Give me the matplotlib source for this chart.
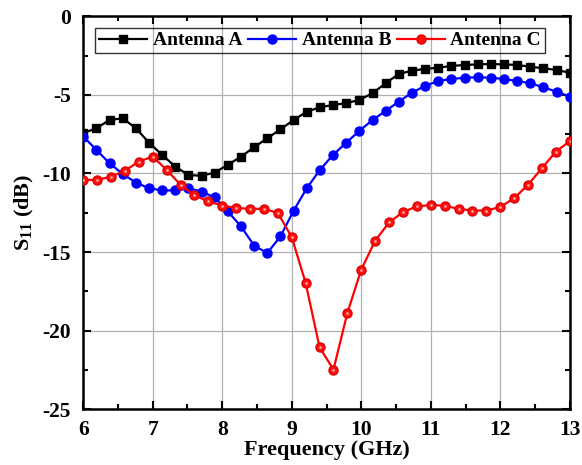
import numpy as np
import matplotlib.pyplot as plt
from matplotlib.ticker import MultipleLocator

plt.rcParams['font.family'] = ['Liberation Serif', 'DejaVu Serif']
plt.rcParams['font.weight'] = 'bold'
plt.rcParams['axes.unicode_minus'] = False
plt.rcParams['mathtext.fontset'] = 'custom'
plt.rcParams['mathtext.rm'] = 'Liberation Serif:bold'
plt.rcParams['mathtext.it'] = 'Liberation Serif:bold'

# frequency samples (GHz)
freq_ab = np.linspace(6, 13, 38)
freq_c = np.linspace(6, 13, 36)

s11_a = [-7.44, -7.12, -6.6, -6.49, -7.12, -8.04, -8.82, -9.56, -10.1, -10.15,
         -9.94, -9.45, -8.93, -8.33, -7.76, -7.19, -6.6, -6.07, -5.79, -5.64,
         -5.53, -5.32, -4.9, -4.26, -3.67, -3.46, -3.35, -3.27, -3.16, -3.1,
         -3.06, -3.04, -3.06, -3.1, -3.21, -3.31, -3.42, -3.59]

s11_b = [-7.65, -8.5, -9.35, -10.03, -10.58, -10.94, -11.08, -11.08, -10.94, -11.15,
         -11.53, -12.42, -13.37, -14.6, -15.06, -14.0, -12.37, -10.94, -9.77, -8.82,
         -8.04, -7.29, -6.6, -6.02, -5.43, -4.86, -4.43, -4.12, -3.99, -3.91,
         -3.88, -3.91, -3.99, -4.12, -4.26, -4.52, -4.8, -5.11]

s11_c = [-10.41, -10.41, -10.2, -9.83, -9.24, -8.93, -9.77, -10.72, -11.4, -11.78,
         -12.04, -12.2, -12.25, -12.25, -12.52, -14.05, -16.97, -21.06, -22.48, -18.88,
         -16.12, -14.28, -13.12, -12.46, -12.1, -12.0, -12.06, -12.25, -12.36, -12.36,
         -12.14, -11.57, -10.72, -9.66, -8.61, -7.95]

fig = plt.figure(figsize=(5.82, 4.65), dpi=100)
ax = fig.add_axes([0.143, 0.12, 0.836, 0.845])

ax.plot(freq_ab, s11_a, color='black', lw=1.6, marker='s', ms=5.5, label='Antenna A', zorder=3)
ax.plot(freq_ab, s11_b, color='blue', lw=1.6, marker='o', ms=6.5, label='Antenna B', zorder=4)
ax.plot(freq_c, s11_c, color='red', lw=1.6, marker='o', ms=6.5, mfc='#ff1010', mec='#e00000',
        label='Antenna C', zorder=5)
# highlight on the red balls
ax.plot(freq_c, s11_c, ls='none', marker='o', ms=2.0, mfc='#ffa0a0', mec='none', zorder=6)

ax.set_xlim(6, 13)
ax.set_ylim(-25, 0)
ax.xaxis.set_major_locator(MultipleLocator(1))
ax.xaxis.set_minor_locator(MultipleLocator(0.5))
ax.yaxis.set_major_locator(MultipleLocator(5))
ax.yaxis.set_minor_locator(MultipleLocator(2.5))
ax.tick_params(which='both', direction='in', top=True, right=True, width=1.5)
ax.tick_params(which='major', length=6, labelsize=15.5)
ax.tick_params(axis='x', which='major', pad=8)
ax.tick_params(axis='y', which='major', pad=9)
ax.tick_params(which='minor', length=3.5)
ax.grid(True, which='major', color='#b0b0b0', lw=0.9)
ax.set_axisbelow(True)
for sp in ax.spines.values():
    sp.set_linewidth(1.8)

ax.set_xlabel('Frequency (GHz)', fontsize=16, fontweight='bold', labelpad=0)
ax.set_ylabel(r'S$_{11}$ (dB)', fontsize=16, fontweight='bold', labelpad=4)

leg = ax.legend(loc='upper center', ncol=3, fontsize=14, frameon=True, fancybox=False,
                handlelength=2.45, columnspacing=0.3, handletextpad=0.3,
                borderpad=0.2, borderaxespad=0.6, bbox_to_anchor=(0.487, 1.0))
leg.get_frame().set_facecolor('none')
leg.get_frame().set_edgecolor('black')
leg.get_frame().set_linewidth(1.0)

plt.savefig('out.png', dpi=100)
